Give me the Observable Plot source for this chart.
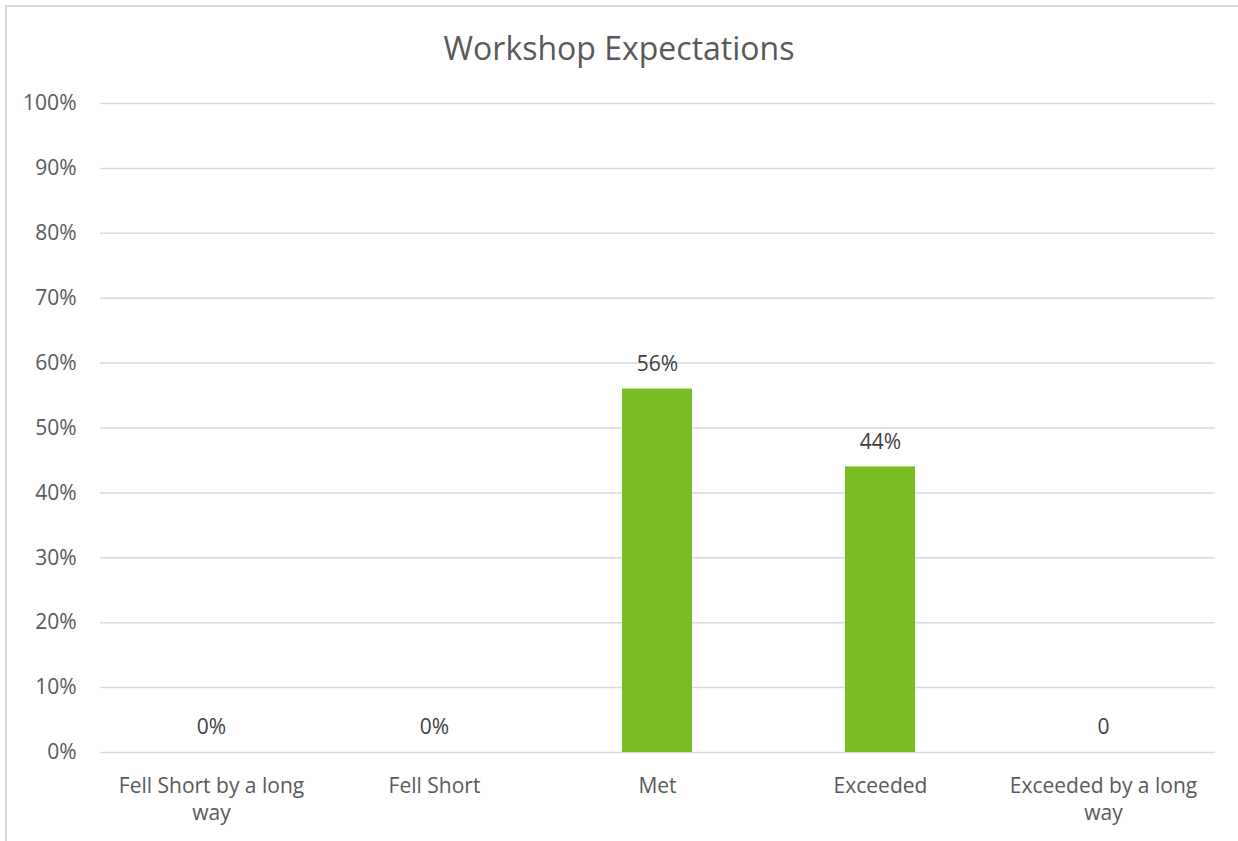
<!DOCTYPE html>
<html>
<head>
<meta charset="utf-8">
<script src="https://cdn.jsdelivr.net/npm/d3@7"></script>
<script src="https://cdn.jsdelivr.net/npm/@observablehq/plot@0.6"></script>
<style>
  html, body { margin: 0; padding: 0; background: #fff; }
  #frame { position: absolute; left: 5px; top: 5px; width: 1240px; height: 850px; border: 2px solid #d9d9d9; box-sizing: border-box; z-index: 2; pointer-events: none; }
  #wrap { position: absolute; left: 0; top: 0; width: 1238px; z-index: 1; }
  #title { height: 70px; box-sizing: border-box; padding-top: 28px; line-height: 40px; text-align: center; font-family: "Open Sans", sans-serif; font-size: 32px; color: #595959; }
  #chart svg { display: block; background: transparent; }
</style>
</head>
<body>
<div id="frame"></div>
<div id="wrap">
  <div id="title">Workshop Expectations</div>
  <div id="chart"></div>
</div>
<script>
const categories = ["Fell Short by a long way", "Fell Short", "Met", "Exceeded", "Exceeded by a long way"];
const tickLabels = ["Fell Short by a long\nway", "Fell Short", "Met", "Exceeded", "Exceeded by a long\nway"];
const values = [0, 0, 0.56, 0.44, 0];
const valueLabels = ["0%", "0%", "56%", "44%", "0"];
const yTicks = [0, 0.1, 0.2, 0.3, 0.4, 0.5, 0.6, 0.7, 0.8, 0.9, 1.0];

const data = categories.map((c, i) => ({category: c, value: values[i], label: valueLabels[i]}));

const chart = Plot.plot({
  width: 1238,
  height: 771,
  marginLeft: 100,
  marginRight: 23,
  marginTop: 33,
  marginBottom: 89,
  style: {fontFamily: "'Open Sans', sans-serif", fontSize: "21px", color: "#595959", background: "transparent"},
  x: {domain: categories, paddingInner: 0.686, paddingOuter: 0.343, label: null},
  y: {domain: [0, 1], label: null},
  marks: [
    Plot.gridY(yTicks, {stroke: "#d9d9d9", strokeWidth: 1.5, strokeOpacity: 1}),
    Plot.axisY({ticks: yTicks, tickFormat: d => Math.round(d * 100) + "%", tickSize: 0, tickPadding: 24, fontSize: 21, fill: "#595959", label: null}),
    Plot.axisX({tickSize: 0, tickPadding: 21, tickFormat: (d, i) => tickLabels[categories.indexOf(d)], lineHeight: 1.29, fontSize: 21, fill: "#595959", label: null}),
    Plot.barY(data, {x: "category", y: "value", fill: "#78bd21"}),
    Plot.text(data, {x: "category", y: "value", text: "label", dy: -25, fontSize: 21, fill: "#404040"})
  ]
});
document.getElementById("chart").appendChild(chart);
</script>
</body>
</html>
